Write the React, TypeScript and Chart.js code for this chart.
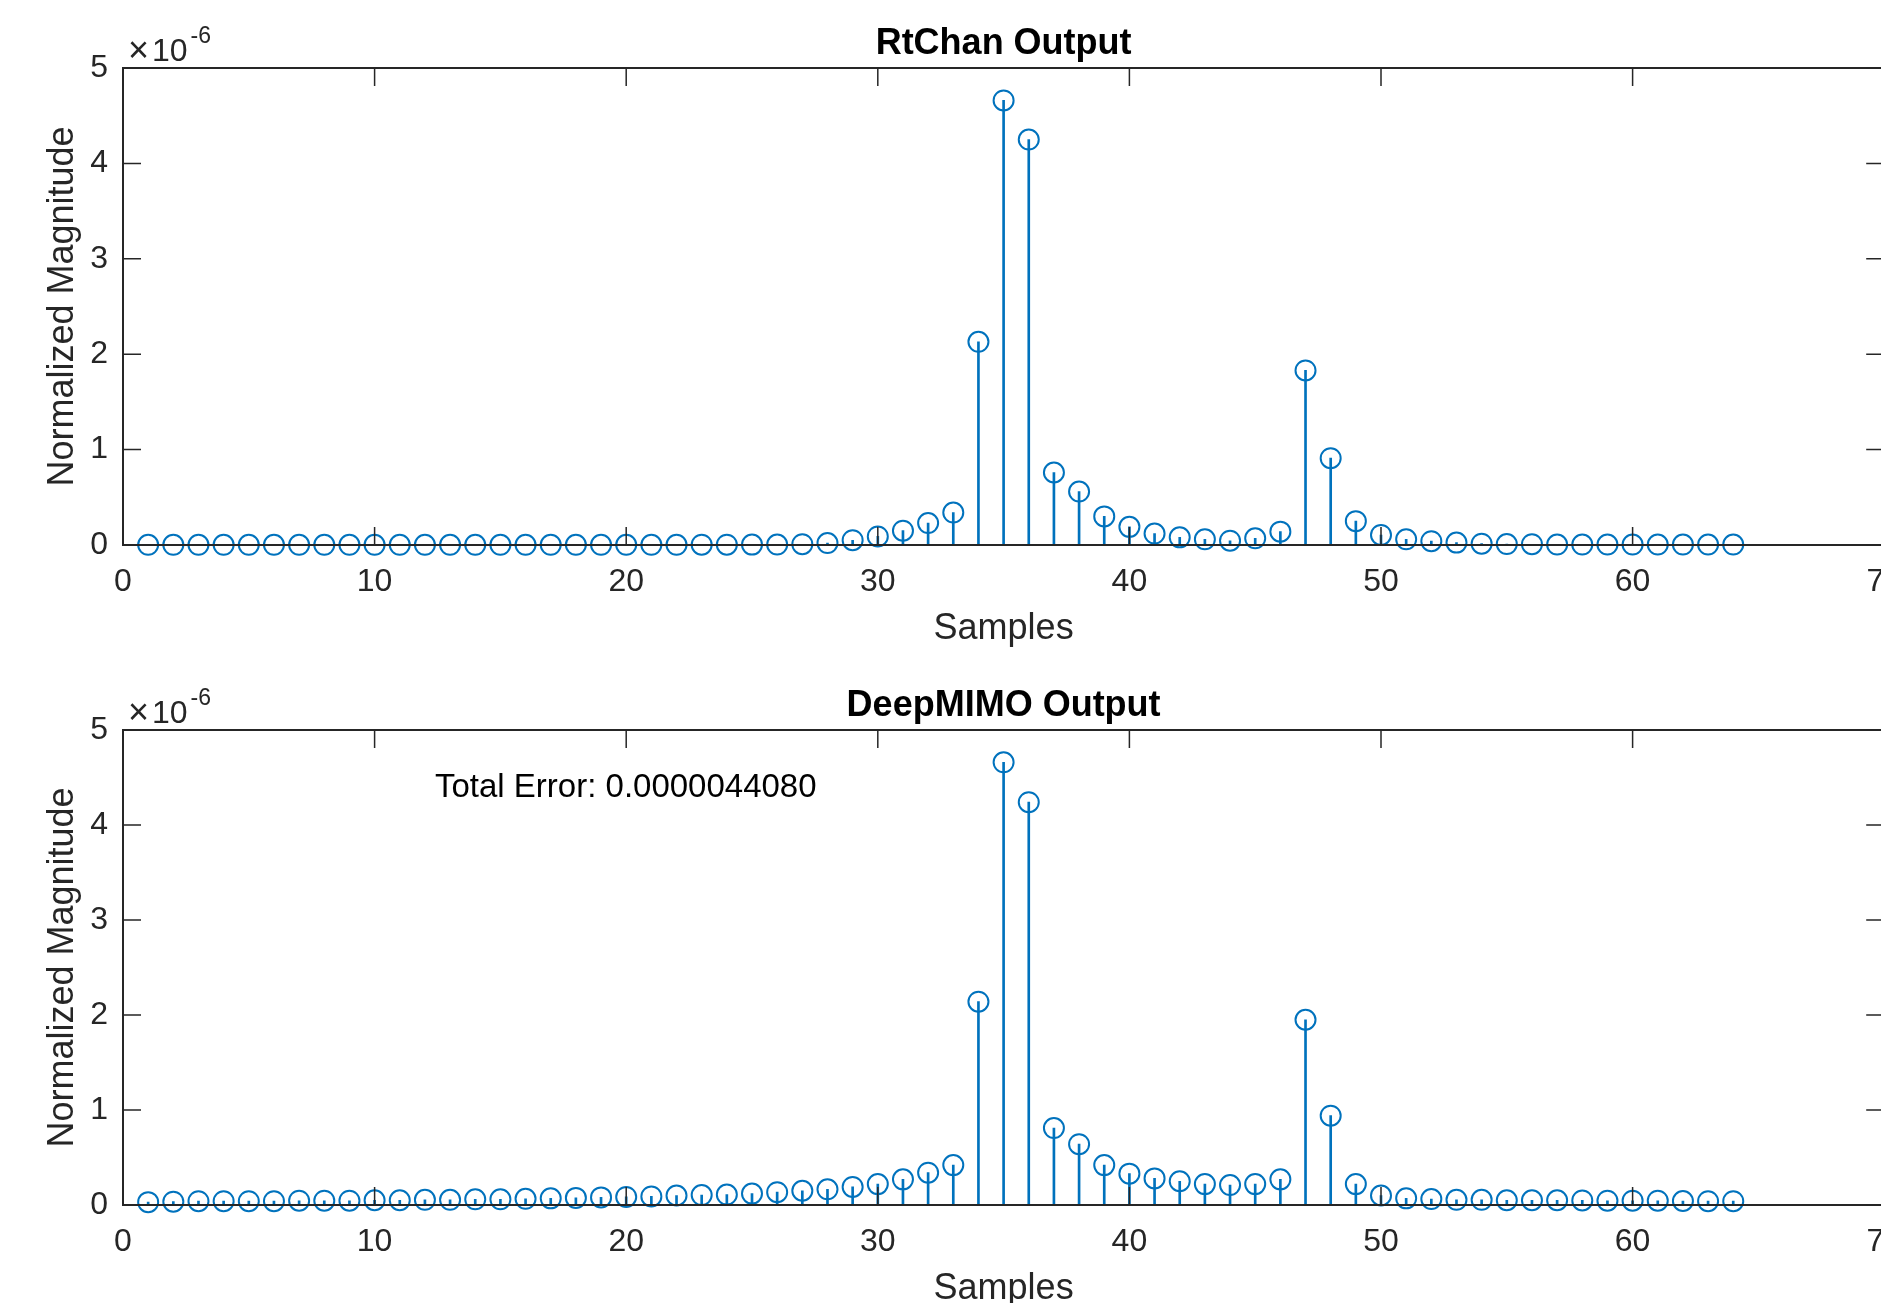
import React, { useEffect, useRef } from "react";
import { Chart, registerables } from "chart.js";

Chart.register(...registerables);

// ---------- data ----------
const SAMPLES = [
  1, 2, 3, 4, 5, 6, 7, 8, 9, 10, 11, 12, 13, 14, 15, 16, 17, 18, 19, 20, 21, 22,
  23, 24, 25, 26, 27, 28, 29, 30, 31, 32, 33, 34, 35, 36, 37, 38, 39, 40, 41, 42,
  43, 44, 45, 46, 47, 48, 49, 50, 51, 52, 53, 54, 55, 56, 57, 58, 59, 60, 61, 62,
  63, 64,
];

// values in units of 1e-6
const RTCHAN = [
  0.002, 0.002, 0.002, 0.002, 0.002, 0.002, 0.002, 0.002, 0.002, 0.002, 0.002,
  0.002, 0.002, 0.002, 0.002, 0.002, 0.002, 0.002, 0.002, 0.002, 0.002, 0.002,
  0.003, 0.003, 0.004, 0.005, 0.008, 0.02, 0.05, 0.09, 0.15, 0.23, 0.34, 2.13,
  4.66, 4.25, 0.76, 0.56, 0.3, 0.19, 0.12, 0.08, 0.06, 0.045, 0.07, 0.14, 1.83,
  0.91, 0.25, 0.105, 0.06, 0.04, 0.025, 0.014, 0.01, 0.008, 0.005, 0.005, 0.005,
  0.005, 0.005, 0.005, 0.005, 0.005,
];

const DEEPMIMO = [
  0.03, 0.035, 0.04, 0.04, 0.04, 0.04, 0.045, 0.045, 0.045, 0.05, 0.05, 0.055,
  0.055, 0.06, 0.06, 0.065, 0.07, 0.075, 0.08, 0.085, 0.09, 0.1, 0.105, 0.11,
  0.12, 0.135, 0.15, 0.165, 0.19, 0.22, 0.27, 0.34, 0.42, 2.14, 4.66, 4.24, 0.81,
  0.64, 0.42, 0.33, 0.28, 0.25, 0.22, 0.21, 0.22, 0.27, 1.95, 0.94, 0.22, 0.1,
  0.07, 0.063, 0.055, 0.055, 0.05, 0.05, 0.05, 0.048, 0.045, 0.045, 0.045, 0.042,
  0.04, 0.04,
];

const X_TICKS = [0, 10, 20, 30, 40, 50, 60, 70];
const Y_TICKS = [0, 1, 2, 3, 4, 5];
const TITLES = ["RtChan Output", "DeepMIMO Output"];
const X_LABEL = "Samples";
const Y_LABEL = "Normalized Magnitude";
const EXP_TIMES = "\u00d7";
const EXP_BASE = "10";
const EXP_POWER = "-6";
const ANNOTATION = "Total Error: 0.0000044080";
const ANNOTATION_AT = { x: 12.4, y: 4.3 };

// ---------- style ----------
const BLUE = "#0072BD";
const AXIS = "#262626";
const FONT = "'Liberation Sans', Arial, Helvetica, sans-serif";
const CANVAS_W = 1920;

type PanelOpts = {
  title: string;
  annotation?: string;
};

const matlabAxes = {
  id: "matlabAxes",
  afterDatasetsDraw(chart: any, _args: any, opts: PanelOpts) {
    const { ctx, chartArea, scales } = chart;
    const { left, right, top, bottom } = chartArea;
    const x = scales.x;
    const y = scales.y;
    ctx.save();
    // box
    ctx.strokeStyle = AXIS;
    ctx.lineWidth = 2;
    ctx.beginPath();
    ctx.moveTo(left, top);
    ctx.lineTo(right, top);
    ctx.moveTo(left, bottom);
    ctx.lineTo(right, bottom);
    ctx.moveTo(left, top - 1);
    ctx.lineTo(left, bottom + 1);
    ctx.moveTo(right, top - 1);
    ctx.lineTo(right, bottom + 1);
    ctx.stroke();
    // ticks (inward)
    const TL = 18;
    ctx.lineWidth = 1.5;
    ctx.beginPath();
    X_TICKS.forEach((v) => {
      const px = x.getPixelForValue(v);
      ctx.moveTo(px, bottom);
      ctx.lineTo(px, bottom - TL);
      ctx.moveTo(px, top);
      ctx.lineTo(px, top + TL);
    });
    Y_TICKS.forEach((v) => {
      const py = y.getPixelForValue(v);
      ctx.moveTo(left, py);
      ctx.lineTo(left + TL, py);
      ctx.moveTo(right, py);
      ctx.lineTo(right - TL, py);
    });
    ctx.stroke();

    // title
    ctx.fillStyle = "#000";
    ctx.textAlign = "center";
    ctx.textBaseline = "alphabetic";
    ctx.font = `bold 36px ${FONT}`;
    ctx.fillText(opts.title, (left + right) / 2, top - 14);

    // exponent
    ctx.fillStyle = AXIS;
    ctx.textAlign = "left";
    ctx.font = `36px ${FONT}`;
    ctx.fillText(EXP_TIMES, left + 5, top - 6);
    ctx.font = `32px ${FONT}`;
    ctx.fillText(EXP_BASE, left + 29, top - 7);
    const w = ctx.measureText(EXP_BASE).width;
    ctx.font = `23px ${FONT}`;
    ctx.fillText(EXP_POWER, left + 32 + w, top - 25);

    // x label
    ctx.textAlign = "center";
    ctx.font = `36px ${FONT}`;
    ctx.fillText(X_LABEL, (left + right) / 2, bottom + 94);

    // y label
    ctx.save();
    ctx.translate(left - 50, (top + bottom) / 2);
    ctx.rotate(-Math.PI / 2);
    ctx.fillText(Y_LABEL, 0, 0);
    ctx.restore();

    // annotation
    if (opts.annotation) {
      ctx.fillStyle = "#000";
      ctx.textAlign = "left";
      ctx.font = `33px ${FONT}`;
      ctx.fillText(
        opts.annotation,
        x.getPixelForValue(ANNOTATION_AT.x),
        y.getPixelForValue(ANNOTATION_AT.y)
      );
    }
    ctx.restore();
  },
};

function makeConfig(values: number[], opts: PanelOpts, padTop: number, xHeight: number): any {
  const pts = SAMPLES.map((s, i) => ({ x: s, y: values[i] }));
  return {
    type: "scatter",
    data: {
      datasets: [
        {
          type: "scatter",
          data: pts,
          pointStyle: "circle",
          pointRadius: 10,
          pointBorderWidth: 2,
          pointBorderColor: BLUE,
          pointBackgroundColor: "rgba(0,0,0,0)",
          showLine: false,
          clip: false,
          order: 0,
        },
        {
          type: "bar",
          data: pts,
          backgroundColor: BLUE,
          borderWidth: 0,
          barThickness: 2,
          order: 1,
        },
      ],
    },
    options: {
      responsive: false,
      animation: false,
      devicePixelRatio: 1,
      events: [],
      layout: { padding: { top: padTop, right: 31, bottom: 0, left: 1 } },
      plugins: {
        legend: { display: false },
        tooltip: { enabled: false },
        title: { display: false },
        matlabAxes: opts,
      },
      scales: {
        x: {
          type: "linear",
          min: 0,
          max: 70,
          offset: false,
          grid: { display: false, drawTicks: false },
          border: { display: false },
          afterBuildTicks: (scale: any) => {
            scale.ticks = X_TICKS.map((v) => ({ value: v }));
          },
          ticks: {
            autoSkip: false,
            maxRotation: 0,
            padding: 18,
            color: AXIS,
            font: { family: FONT, size: 32 },
          },
          afterFit: (scale: any) => {
            scale.height = xHeight;
          },
        },
        y: {
          type: "linear",
          min: 0,
          max: 5,
          grid: { display: false, drawTicks: false },
          border: { display: false },
          afterBuildTicks: (scale: any) => {
            scale.ticks = Y_TICKS.map((v) => ({ value: v }));
          },
          ticks: {
            autoSkip: false,
            padding: 15,
            color: AXIS,
            font: { family: FONT, size: 32 },
          },
          afterFit: (scale: any) => {
            scale.width = 122;
          },
        },
      },
    },
    plugins: [matlabAxes],
  };
}

export default function App() {
  const topRef = useRef<HTMLCanvasElement>(null);
  const botRef = useRef<HTMLCanvasElement>(null);

  useEffect(() => {
    const c1 = new Chart(
      topRef.current as HTMLCanvasElement,
      makeConfig(RTCHAN, { title: TITLES[0] }, 68, 105)
    );
    const c2 = new Chart(
      botRef.current as HTMLCanvasElement,
      makeConfig(DEEPMIMO, { title: TITLES[1], annotation: ANNOTATION }, 80, 98)
    );
    return () => {
      c1.destroy();
      c2.destroy();
    };
  }, []);

  return (
    <div
      style={{
        position: "absolute",
        left: 0,
        top: 0,
        width: 1881,
        height: 1303,
        overflow: "hidden",
        background: "#fff",
      }}
    >
      <canvas
        ref={topRef}
        width={CANVAS_W}
        height={650}
        style={{ position: "absolute", left: 0, top: 0, width: CANVAS_W, height: 650 }}
      />
      <canvas
        ref={botRef}
        width={CANVAS_W}
        height={653}
        style={{ position: "absolute", left: 0, top: 650, width: CANVAS_W, height: 653 }}
      />
    </div>
  );
}
